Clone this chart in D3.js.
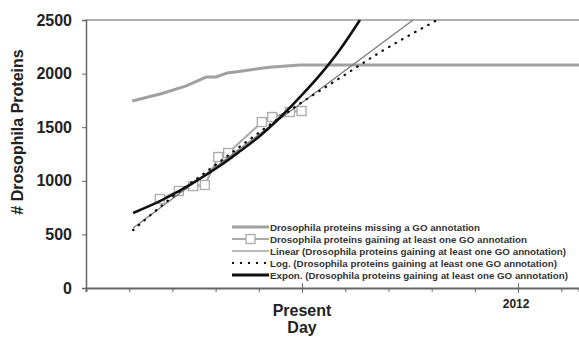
<!DOCTYPE html>
<html>
<head>
<meta charset="utf-8">
<script src="https://cdn.jsdelivr.net/npm/d3@7"></script>
<style>
  body { margin: 0; background: #fff; }
  text { font-family: "Liberation Sans", Arial, sans-serif; font-weight: bold; }
</style>
</head>
<body>
<svg id="chart" width="579" height="339"></svg>
<script>
// values (x in years, y in proteins)
const missingYears = [2003.07, 2003.76, 2004.32, 2004.62, 2004.78, 2005.01, 2005.27, 2005.54, 2006.24, 2006.95, 2013.41];
const missingValues = [1745, 1815, 1885, 1940, 1968, 1968, 2006, 2020, 2060, 2080, 2080];

const gainingYears = [2003.71, 2004.15, 2004.48, 2004.75, 2005.06, 2005.29, 2006.07, 2006.31, 2006.72, 2006.99];
const gainingValues = [830, 905, 951, 961, 1222, 1259, 1548, 1595, 1642, 1651];

const linearYears = [2003.09, 2009.57];
const linearValues = [560, 2500];

const logYears = [2003.09, 2003.94, 2004.87, 2005.80, 2006.95, 2007.88, 2008.81, 2010.13];
const logValues = [540, 830, 1110, 1390, 1720, 1960, 2200, 2500];

const exponYears = [2003.09, 2003.71, 2004.18, 2004.64, 2005.10, 2005.56, 2006.03, 2006.49, 2006.95, 2007.42, 2007.88, 2008.34];
const exponValues = [700, 810, 910, 1020, 1140, 1275, 1420, 1590, 1780, 1990, 2225, 2500];

const yTicks = [0, 500, 1000, 1500, 2000, 2500];
const xTicks = [2003, 2004, 2005, 2006, 2007, 2008, 2009, 2010, 2011, 2012, 2013];
const majorTicks = [2007, 2012];

const legendLabels = [
    "Drosophila proteins missing a GO annotation",
    "Drosophila proteins gaining at least one GO annotation",
    "Linear (Drosophila proteins gaining at least one GO annotation)",
    "Log. (Drosophila proteins gaining at least one GO annotation)",
    "Expon. (Drosophila proteins gaining at least one GO annotation)"
];

const svg = d3.select("#chart");
const plotLeft = 86, plotRight = 579, plotTop = 20, plotBottom = 288;

const x = d3.scaleLinear().domain([2002, 2013.41]).range([plotLeft, plotRight]);
const y = d3.scaleLinear().domain([0, 2500]).range([plotBottom, plotTop]);

const zip = (xs, ys) => xs.map((v, i) => [v, ys[i]]);

svg.append("defs").append("clipPath").attr("id", "plot")
    .append("rect").attr("x", plotLeft).attr("y", plotTop - 1)
    .attr("width", plotRight - plotLeft).attr("height", plotBottom - plotTop + 1);

// top gridline
svg.append("line")
    .attr("x1", plotLeft).attr("x2", plotRight)
    .attr("y1", y(2500)).attr("y2", y(2500))
    .attr("stroke", "#999").attr("stroke-width", 1.5);

// y axis
const yAxis = svg.append("g").attr("transform", `translate(${plotLeft},0)`)
    .call(d3.axisLeft(y).tickValues(yTicks).tickSize(4).tickPadding(10).tickFormat(d3.format("d")));
yAxis.select(".domain").attr("stroke", "#666").attr("stroke-width", 1.5);
yAxis.selectAll(".tick line").attr("stroke", "#666");
yAxis.selectAll("text").attr("font-size", 16).attr("fill", "#222")
    .style("font-family", "Liberation Sans, Arial, sans-serif").style("font-weight", "bold");

// x axis
const xAxis = svg.append("g").attr("transform", `translate(0,${plotBottom})`)
    .call(d3.axisBottom(x).tickValues(xTicks).tickSize(4).tickFormat(""));
xAxis.select(".domain").attr("stroke", "#666").attr("stroke-width", 2);
xAxis.selectAll(".tick line").attr("stroke", "#666")
    .attr("y1", d => majorTicks.includes(d) ? -5 : 0)
    .attr("y2", d => majorTicks.includes(d) ? 5 : 4);

svg.append("text").attr("x", x(2007)).attr("y", 316)
    .attr("text-anchor", "middle").attr("font-size", 16).attr("fill", "#222").text("Present");
svg.append("text").attr("x", x(2007)).attr("y", 333)
    .attr("text-anchor", "middle").attr("font-size", 16).attr("fill", "#222").text("Day");
svg.append("text").attr("x", x(2012) - 2).attr("y", 308)
    .attr("text-anchor", "middle").attr("font-size", 12).attr("fill", "#222").text("2012");

svg.append("text")
    .attr("transform", `translate(23,${(plotTop + plotBottom) / 2 - 22}) rotate(-90)`)
    .attr("text-anchor", "middle").attr("font-size", 16).attr("fill", "#222")
    .text("# Drosophila Proteins");

const line = d3.line().x(d => x(d[0])).y(d => y(d[1]));
const plot = svg.append("g").attr("clip-path", "url(#plot)");

plot.append("path").datum(zip(missingYears, missingValues))
    .attr("d", line).attr("fill", "none")
    .attr("stroke", "#a0a0a0").attr("stroke-width", 3);

plot.append("path").datum(zip(gainingYears, gainingValues))
    .attr("d", line).attr("fill", "none")
    .attr("stroke", "#aaa").attr("stroke-width", 2);

plot.selectAll("rect.sq").data(zip(gainingYears, gainingValues)).enter()
    .append("rect").attr("class", "sq")
    .attr("x", d => x(d[0]) - 4.5).attr("y", d => y(d[1]) - 4.5)
    .attr("width", 9).attr("height", 9)
    .attr("fill", "#fff").attr("stroke", "#aaa").attr("stroke-width", 1.3);

plot.append("path").datum(zip(linearYears, linearValues))
    .attr("d", line).attr("fill", "none")
    .attr("stroke", "#777").attr("stroke-width", 1.2);

plot.append("path").datum(zip(logYears, logValues))
    .attr("d", line.curve(d3.curveMonotoneX)).attr("fill", "none")
    .attr("stroke", "#111").attr("stroke-width", 2.3)
    .attr("stroke-dasharray", "0.5,7").attr("stroke-linecap", "round");

plot.append("path").datum(zip(exponYears, exponValues))
    .attr("d", line.curve(d3.curveMonotoneX)).attr("fill", "none")
    .attr("stroke", "#111").attr("stroke-width", 2.6);

// legend
const legend = svg.append("g");
const styles = [
    {stroke: "#a0a0a0", width: 3, dash: null},
    {stroke: "#aaa", width: 2, dash: null},
    {stroke: "#777", width: 1.2, dash: null},
    {stroke: "#111", width: 2, dash: "2,6"},
    {stroke: "#111", width: 3, dash: null}
];
const textEnds = [480, 527, 566, 557, 568];
legendLabels.forEach((label, i) => {
    const ly = 227 + i * 12;
    legend.append("line")
        .attr("x1", 232).attr("x2", 269).attr("y1", ly).attr("y2", ly)
        .attr("stroke", styles[i].stroke).attr("stroke-width", styles[i].width)
        .attr("stroke-dasharray", styles[i].dash);
    if (i === 1) {
        legend.append("rect").attr("x", 246).attr("y", ly - 4.5)
            .attr("width", 9).attr("height", 9)
            .attr("fill", "#fff").attr("stroke", "#aaa").attr("stroke-width", 1.3);
    }
    legend.append("text").attr("x", 270).attr("y", ly + 3.5)
        .attr("font-size", 9.5).attr("fill", "#333")
        .attr("textLength", textEnds[i] - 270).attr("lengthAdjust", "spacingAndGlyphs")
        .text(label);
});
</script>
</body>
</html>
